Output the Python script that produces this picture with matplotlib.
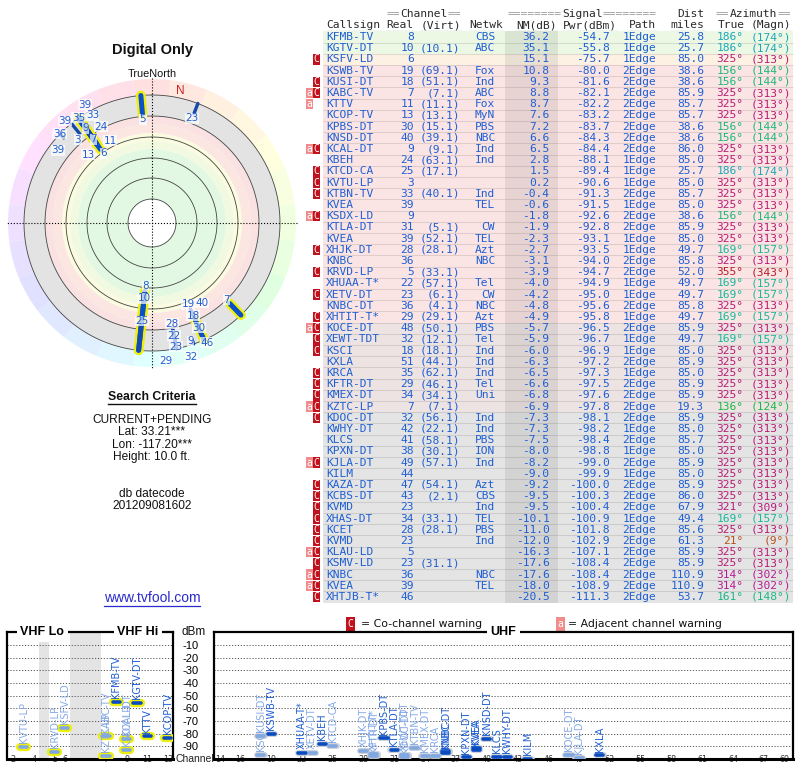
import colorsys
import numpy as np
import matplotlib
matplotlib.use("Agg")
import matplotlib.pyplot as plt

# ---- station list, in the order of the table ----
callsign = ["KFMB-TV", "KGTV-DT", "KSFV-LD", "KSWB-TV", "KUSI-DT", "KABC-TV", "KTTV", "KCOP-TV",
            "KPBS-DT", "KNSD-DT", "KCAL-DT", "KBEH", "KTCD-CA", "KVTU-LP", "KTBN-TV", "KVEA",
            "KSDX-LD", "KTLA-DT", "KVEA", "XHJK-DT", "KNBC", "KRVD-LP", "XHUAA-T*", "XETV-DT",
            "KNBC-DT", "XHTIT-T*", "KOCE-DT", "XEWT-TDT", "KSCI", "KXLA", "KRCA", "KFTR-DT",
            "KMEX-DT", "KZTC-LP", "KDOC-DT", "KWHY-DT", "KLCS", "KPXN-DT", "KJLA-DT", "KILM",
            "KAZA-DT", "KCBS-DT", "KVMD", "XHAS-DT", "KCET", "KVMD", "KLAU-LD", "KSMV-LD",
            "KNBC", "KVEA", "XHTJB-T*"]
real_ch = [8, 10, 6, 19, 18, 7, 11, 13, 30, 40, 9, 24, 25, 3, 33, 39, 9, 31, 39, 28, 36, 5, 22, 23,
           36, 29, 48, 32, 18, 51, 35, 29, 34, 7, 32, 42, 41, 38, 49, 44, 47, 43, 23, 34, 28, 23,
           5, 23, 36, 39, 46]
virt_ch = ["", "(10.1)", "", "(69.1)", "(51.1)", "(7.1)", "(11.1)", "(13.1)", "(15.1)", "(39.1)",
           "(9.1)", "(63.1)", "(17.1)", "", "(40.1)", "", "", "(5.1)", "(52.1)", "(28.1)", "",
           "(33.1)", "(57.1)", "(6.1)", "(4.1)", "(29.1)", "(50.1)", "(12.1)", "(18.1)", "(44.1)",
           "(62.1)", "(46.1)", "(34.1)", "(7.1)", "(56.1)", "(22.1)", "(58.1)", "(30.1)", "(57.1)",
           "", "(54.1)", "(2.1)", "", "(33.1)", "(28.1)", "", "", "(31.1)", "", "", ""]
network = ["CBS", "ABC", "", "Fox", "Ind", "ABC", "Fox", "MyN", "PBS", "NBC", "Ind", "Ind", "", "",
           "Ind", "TEL", "", "CW", "TEL", "Azt", "NBC", "", "Tel", "CW", "NBC", "Azt", "PBS", "Tel",
           "Ind", "Ind", "Ind", "Tel", "Uni", "", "Ind", "Ind", "PBS", "ION", "Ind", "", "Azt",
           "CBS", "Ind", "TEL", "PBS", "Ind", "", "", "NBC", "TEL", ""]
nm_db = [36.2, 35.1, 15.1, 10.8, 9.3, 8.8, 8.7, 7.6, 7.2, 6.6, 6.5, 2.8, 1.5, 0.2, -0.4, -0.6,
         -1.8, -1.9, -2.3, -2.7, -3.1, -3.9, -4.0, -4.2, -4.8, -4.9, -5.7, -5.9, -6.0, -6.3, -6.5,
         -6.6, -6.8, -6.9, -7.3, -7.3, -7.5, -8.0, -8.2, -9.0, -9.2, -9.5, -9.5, -10.1, -11.0,
         -12.0, -16.3, -17.6, -17.6, -18.0, -20.5]
pwr_dbm = [-54.7, -55.8, -75.7, -80.0, -81.6, -82.1, -82.2, -83.2, -83.7, -84.3, -84.4, -88.1,
           -89.4, -90.6, -91.3, -91.5, -92.6, -92.8, -93.1, -93.5, -94.0, -94.7, -94.9, -95.0,
           -95.6, -95.8, -96.5, -96.7, -96.9, -97.2, -97.3, -97.5, -97.6, -97.8, -98.1, -98.2,
           -98.4, -98.8, -99.0, -99.9, -100.0, -100.3, -100.4, -100.9, -101.8, -102.9, -107.1,
           -108.4, -108.4, -108.9, -111.3]
path_edges = [1, 1, 1, 2, 2, 2, 2, 2, 2, 2, 2, 1, 1, 1, 2, 1, 2, 2, 1, 1, 2, 2, 1, 1, 2, 1, 2, 1,
              1, 2, 1, 2, 2, 2, 2, 1, 2, 1, 2, 1, 2, 2, 2, 1, 2, 2, 2, 2, 2, 2, 2]
dist_mi = [25.8, 25.7, 85.0, 38.6, 38.6, 85.9, 85.7, 85.7, 38.6, 38.6, 86.0, 85.0, 25.7, 85.0,
           85.7, 85.0, 38.6, 85.9, 85.0, 49.7, 85.8, 52.0, 49.7, 49.7, 85.8, 49.7, 85.9, 49.7,
           85.0, 85.9, 85.0, 85.9, 85.9, 19.3, 85.9, 85.0, 85.7, 85.0, 85.9, 85.0, 85.9, 86.0,
           67.9, 49.4, 85.6, 61.3, 85.9, 85.9, 110.9, 110.9, 53.7]
az_true = [186, 186, 325, 156, 156, 325, 325, 325, 156, 156, 325, 325, 186, 325, 325, 325, 156,
           325, 325, 169, 325, 355, 169, 169, 325, 169, 325, 169, 325, 325, 325, 325, 325, 136,
           325, 325, 325, 325, 325, 325, 325, 325, 321, 169, 325, 21, 325, 325, 314, 314, 161]
az_magn = [174, 174, 313, 144, 144, 313, 313, 313, 144, 144, 313, 313, 174, 313, 313, 313, 144,
           313, 313, 157, 313, 343, 157, 157, 313, 157, 313, 157, 313, 313, 313, 313, 313, 124,
           313, 313, 313, 313, 313, 313, 313, 313, 309, 157, 313, 9, 313, 313, 302, 302, 148]
warn = ["", "", "C", "", "C", "aC", "a", "", "", "", "aC", "", "C", "C", "C", "", "aC", "", "",
        "C", "", "C", "", "C", "", "C", "aC", "C", "C", "", "C", "C", "C", "aC", "C", "", "", "",
        "aC", "", "C", "C", "C", "C", "C", "C", "aC", "C", "aC", "aC", "C"]

# ---- spectrum chart axes ----
vhf_channels = [2, 3, 4, 5, 6, 7, 8, 9, 10, 11, 12, 13]
vhf_slots = [0, 1, 2, 4, 5, 9, 10, 11, 12, 13, 14, 15]
vhf_tick_ch = [2, 4, 5, 6, 7, 9, 11, 13]
uhf_tick_ch = [14, 16, 19, 22, 25, 28, 31, 34, 37, 40, 43, 46, 49, 52, 55, 58, 61, 64, 67, 69]
dbm_levels = [-10, -20, -30, -40, -50, -60, -70, -80, -90]

search_lines = ["CURRENT+PENDING", "Lat: 33.21***", "Lon: -117.20***", "Height: 10.0 ft."]
datecode = ["db datecode", "201209081602"]

W, H = 800, 768
MONO = "DejaVu Sans Mono"
SANS = "Liberation Sans"
VERD = "DejaVu Sans"
BLUE = "#1f5fd3"
LIGHT = "#86aae6"
DARKBAR = "#0a4cc0"
YELLOW = "#eeee10"
CRED = "#c2101c"
ARED = "#f08c8c"


def az_color(az, s=0.85, v=0.72):
    return colorsys.hsv_to_rgb((az % 360) / 360.0, s, v)


def row_color(v):
    if v >= 20:
        return "#ecf7e4"
    if v >= 12:
        return "#fdf1e4"
    if v > -5:
        return "#fbe4e4"
    if v > -7:
        return "#ede3e3"
    return "#e4e4e4"


fig = plt.figure(figsize=(W / 100, H / 100), dpi=100)

# pixel canvas for free text
ax0 = fig.add_axes([0, 0, 1, 1])
ax0.set_xlim(0, W)
ax0.set_ylim(H, 0)
ax0.axis("off")

# ---------------- table ----------------
ROW0, ROWH = 37.0, 11.2
axt = fig.add_axes([0, 0, 1, 1], label="table")
axt.set_xlim(0, W)
axt.set_ylim((H - ROW0) / ROWH, -ROW0 / ROWH)
axt.axis("off")

n = len(callsign)
rows = np.arange(n)
axt.barh(rows, 470, left=323, height=1.0, color=[row_color(v) for v in nm_db], edgecolor="none")
axt.barh((n - 1) / 2, 53, left=505, height=n, color="black", alpha=0.075, edgecolor="none")
axt.hlines(rows[:-1] + 0.5, 323, 793, color="black", alpha=0.1, lw=0.8)

tk = dict(family=MONO, fontsize=8.15, va="center")
for i in rows:
    axt.text(326, i, callsign[i], color=BLUE, ha="left", **tk)
    axt.text(414, i, str(real_ch[i]), color=BLUE, ha="right", **tk)
    axt.text(460, i, virt_ch[i], color=BLUE, ha="right", **tk)
    axt.text(495, i, network[i], color=BLUE, ha="right", **tk)
    axt.text(549.5, i, f"{nm_db[i]:.1f}", color=BLUE, ha="right", **tk)
    axt.text(609.5, i, f"{pwr_dbm[i]:.1f}", color=BLUE, ha="right", **tk)
    axt.text(656, i, f"{path_edges[i]}Edge", color=BLUE, ha="right", **tk)
    axt.text(704, i, f"{dist_mi[i]:.1f}", color=BLUE, ha="right", **tk)
    col = az_color(az_true[i])
    axt.text(743.5, i, f"{az_true[i]}\u00b0", color=col, ha="right", **tk)
    axt.text(791, i, f"({az_magn[i]}\u00b0)", color=col, ha="right", **tk)

c_rows = [i for i, w in enumerate(warn) if "C" in w]
a_rows = [i for i, w in enumerate(warn) if "a" in w]
axt.barh(c_rows, 7, left=313, height=0.92, color=CRED, edgecolor="none")
axt.barh(a_rows, 6.5, left=306.3, height=0.92, color=ARED, edgecolor="none")
for i in c_rows:
    axt.text(316.6, i, "C", color="white", family=MONO, fontsize=7, ha="center", va="center")
for i in a_rows:
    axt.text(309.6, i, "a", color="white", family=MONO, fontsize=7, ha="center", va="center")

# header lines
cw = 8.15 * 100 / 72 * 0.602
hy1 = (14 - ROW0) / ROWH
hy2 = (25 - ROW0) / ROWH
GREYH, DARKH = "#9a9a9a", "#2a2a2a"
hk = dict(family=MONO, fontsize=8.15, va="center", ha="left")
for x0, word, pad in [(386.5, "Channel", 2), (507.5, "Signal", 8), (716, "Azimuth", 2)]:
    axt.text(x0, hy1, "=" * pad, color=GREYH, **hk)
    axt.text(x0 + pad * cw, hy1, word, color=DARKH, **hk)
    axt.text(x0 + (pad + len(word)) * cw, hy1, "=" * pad, color=GREYH, **hk)
axt.text(704.5, hy1, "Dist", color=DARKH, family=MONO, fontsize=8.15, va="center", ha="right")

underlined = []
for word, x, ha in [("Callsign", 326, "left"), ("Real", 413, "right"), ("(Virt)", 461, "right"),
                    ("Netwk", 503, "right"), ("NM(dB)", 556.5, "right"), ("Pwr(dBm)", 616.5, "right"),
                    ("Path", 656, "right"), ("miles", 704.5, "right"), ("True", 745, "right"),
                    ("(Magn)", 791, "right")]:
    t = axt.text(x, hy2, word, color=DARKH, family=MONO, fontsize=8.15, va="center", ha=ha)
    underlined.append((t, DARKH, 0.8))

# ---------------- left column text ----------------
ax0.text(152, 50, "Digital Only", family=SANS, fontsize=10.5, fontweight="bold",
         ha="center", va="center", color="#111")
ax0.text(152, 74, "TrueNorth", family=SANS, fontsize=7.8, ha="center", va="center", color="#111")
t = ax0.text(152, 397, "Search Criteria", family=SANS, fontsize=8.8, fontweight="bold",
             ha="center", va="center", color="#111")
underlined.append((t, "#111", 1.0))
for k, line in enumerate(search_lines):
    ax0.text(152, 420 + k * 12.3, line, family=SANS, fontsize=8.6, ha="center", va="center",
             color="#111")
for k, line in enumerate(datecode):
    ax0.text(152, 494 + k * 12.3, line, family=SANS, fontsize=8.6, ha="center", va="center",
             color="#111")
t = ax0.text(152, 598, "www.tvfool.com", family=SANS, fontsize=10, ha="center", va="center",
             color="#2a2ad0")
underlined.append((t, "#2a2ad0", 0.9))

# ---------------- polar plot ----------------
CX, CY, RP = 152, 223, 150
axp = fig.add_axes([(CX - RP) / W, (H - CY - RP) / H, 2 * RP / W, 2 * RP / H], projection="polar")
axp.set_theta_zero_location("N")
axp.set_theta_direction(-1)
axp.set_ylim(0, RP)
axp.axis("off")

n_wedge = 24
wedge_az = np.arange(n_wedge) * 360 / n_wedge
axp.bar(np.deg2rad(wedge_az), 16, width=2 * np.pi / n_wedge, bottom=128,
        color=[az_color(a, 0.12, 1.0) for a in wedge_az], edgecolor="none")
band_edges = [0, 24, 74, 82, 90, 99, 107, 128]
band_colors = ["white", "#e2f8e2", "#f1fae0", "#fbfbe0", "#fbe6e2", "#fae2e2", "#e3e3e3"]
for r0, r1, c in zip(band_edges[:-1], band_edges[1:], band_colors):
    axp.bar(0, r1 - r0, width=2 * np.pi, bottom=r0, color=c, edgecolor="none")
ring_th = np.linspace(0, 2 * np.pi, 361)
for r in [24, 45, 65, 86, 107, 128]:
    axp.plot(ring_th, np.full_like(ring_th, r), color="#444", lw=0.6)
axp.plot([0, 0, np.pi], [145, 0, 145], color="black", lw=0.8, ls=":")
axp.plot([np.pi / 2, np.pi / 2, 3 * np.pi / 2], [145, 0, 145], color="black", lw=0.8, ls=":")
axp.text(np.deg2rad(12), 135, "N", color="#d02424", family=SANS, fontsize=8.5,
         ha="center", va="center")

theta = np.deg2rad(az_true)
r_start = np.clip(105 - np.array(nm_db), 0, 125)
is_vhf = np.array(real_ch) <= 13
for th, r0, v in zip(theta, r_start, is_vhf):
    if v:
        axp.plot([th, th], [r0, 128], color=YELLOW, lw=7, solid_capstyle="round")
for th, r0, v in zip(theta, r_start, is_vhf):
    axp.plot([th, th], [r0, 128], color="#0a50c8" if v else "#1848a8",
             lw=3.6 if v else 2.4, solid_capstyle="round")

# channel labels: along the ray first, then beside it; hidden when no room is left
placed = []
candidates = [(k, 0) for k in range(3)] + [(k, s) for k in range(5) for s in (1, -1)]
for th, r0, ch in zip(theta, r_start, real_ch):
    spot = None
    for k, side in candidates:
        rr = r0 - 5 + k * 11
        if rr > 141:
            continue
        px = rr * np.sin(th) + side * 13 * np.cos(th)
        py = rr * np.cos(th) - side * 13 * np.sin(th)
        if all(abs(px - qx) > 13.5 or abs(py - qy) > 10.5 for qx, qy in placed):
            spot = (px, py)
            break
    if spot is None:
        continue
    placed.append(spot)
    axp.text(np.arctan2(spot[0], spot[1]), np.hypot(*spot), str(ch), color=BLUE, family=VERD,
             fontsize=7.5, ha="center", va="center",
             bbox=dict(facecolor="white", alpha=0.7, edgecolor="none", pad=0.3))

# ---------------- spectrum panels ----------------
YT, YB = 632.3, 759
axv = fig.add_axes([7 / W, (H - YB) / H, 166 / W, (YB - YT) / H])
axu = fig.add_axes([214 / W, (H - YB) / H, 579 / W, (YB - YT) / H])
axv.set_xlim(-0.61, 15.5)
axu.set_xlim(13.44, 69.82)
for ax in (axv, axu):
    ax.set_ylim(-100, 0)
    for s in ax.spines.values():
        s.set_linewidth(1.6)
    ax.spines["bottom"].set_linewidth(2.2)
    for lev in dbm_levels:
        ax.axhline(lev, color="#555", lw=0.7, ls=(0, (1.2, 1.8)), zorder=1)
    ax.tick_params(axis="x", length=0, pad=-3.2, labelsize=5.8, labelcolor="#333")
axv.axvspan(2.5, 3.5, color="#e4e4e4", lw=0, zorder=0)
axv.axvspan(5.5, 8.5, color="#e4e4e4", lw=0, zorder=0)
axv.set_xticks([vhf_slots[vhf_channels.index(c)] for c in vhf_tick_ch])
axv.set_xticklabels([str(c) for c in vhf_tick_ch])
axv.set_yticks([])
axu.set_xticks(uhf_tick_ch)
axu.set_xticklabels([str(c) for c in uhf_tick_ch])
axu.set_yticks(dbm_levels)
axu.set_yticklabels([str(v) for v in dbm_levels], family=SANS, fontsize=8)
axu.tick_params(axis="y", length=0, pad=11)
for ax in (axv, axu):
    for lbl in ax.get_xticklabels():
        lbl.set_bbox(dict(facecolor="white", edgecolor="none", pad=0.4))

hb = dict(family=SANS, fontsize=9, fontweight="bold", ha="center", va="center", clip_on=False,
          bbox=dict(facecolor="white", edgecolor="none", pad=2.5))
axv.text(2.8, 0, "VHF Lo", **hb)
axv.text(12.1, 0, "VHF Hi", **hb)
axu.text(41.6, 0, "UHF", **hb)
ax0.text(194, 632, "dBm", family=SANS, fontsize=8.5, ha="center", va="center", color="#111")
ax0.text(195, 759, "Channel", family=SANS, fontsize=7.5, ha="center", va="center", color="#222",
         bbox=dict(facecolor="white", edgecolor="none", pad=0.5))

for ch, p, w, name in zip(real_ch, pwr_dbm, warn, callsign):
    if p <= -100:
        continue
    light = "C" in w
    if ch <= 13:
        ax, x = axv, vhf_slots[vhf_channels.index(ch)]
        ax.plot([x - 0.35, x + 0.35], [p, p], color=YELLOW, lw=6, solid_capstyle="round", zorder=3)
    else:
        ax, x = axu, ch
        ax.plot([x - 0.38, x + 0.38], [p, p], color="#c9ced8", lw=4.2, solid_capstyle="round",
                zorder=3)
    ax.plot([x - 0.35, x + 0.35], [p, p], color="#80a8e0" if light else DARKBAR, lw=2.6,
            solid_capstyle="round", zorder=4)
    ax.text(x, p + 3.0, name, rotation=90, ha="center", va="bottom", family=VERD, fontsize=7,
            color=LIGHT if light else BLUE, zorder=5)

# warning legend
ax0.text(350.5, 624, "C", family=MONO, fontsize=7, color="white", ha="center", va="center",
         bbox=dict(facecolor=CRED, edgecolor="none", pad=1.2))
ax0.text(361, 624, "= Co-channel warning", family=VERD, fontsize=7.8, color="#111",
         ha="left", va="center")
ax0.text(560.5, 624, "a", family=MONO, fontsize=7, color="white", ha="center", va="center",
         bbox=dict(facecolor=ARED, edgecolor="none", pad=1.2))
ax0.text(568, 624, "= Adjacent channel warning", family=VERD, fontsize=7.8, color="#111",
         ha="left", va="center")

# underlines from rendered text extents
fig.canvas.draw()
inv = ax0.transData.inverted()
for t, col, lw in underlined:
    bb = t.get_window_extent()
    (x0, y0), (x1, _) = inv.transform([(bb.x0, bb.y0), (bb.x1, bb.y1)])
    ax0.plot([x0, x1], [y0 + 0.5, y0 + 0.5], color=col, lw=lw)

fig.savefig("out.png", dpi=100)
